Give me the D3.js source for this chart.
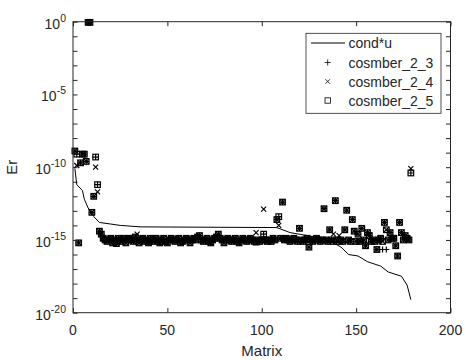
<!DOCTYPE html>
<html><head><meta charset="utf-8">
<script src="https://cdn.jsdelivr.net/npm/d3@7"></script>
<style>body{margin:0;background:#fff}svg{display:block}text{font-family:"Liberation Sans",Arial,sans-serif;fill:#262626}</style>
</head><body><svg id="c" width="466" height="360"></svg>
<script>
const seriesNames = ["cond*u","cosmber_2_3","cosmber_2_4","cosmber_2_5"];
const xTicks = [0,50,100,150,200];
const yMajor = [1e-20,1e-15,1e-10,1e-5,1e0];
const yExpLabels = ["-20","-15","-10","-5","0"];
const matrixIds = d3.range(1,180);

const condLineX = [1,2,5,6,8,11,14,25,36,108,115,131,138,142,146,151,156,163,167,174,177,179];
const condLineY = [7.9e-11,6.3e-12,2.5e-12,6.3e-13,1.6e-13,4.0e-14,1.6e-14,1.0e-14,7.9e-15,7.1e-15,3.2e-15,1.4e-15,6.3e-16,3.2e-16,1.0e-16,7.9e-17,3.2e-17,1.6e-17,6.3e-18,3.2e-18,7.9e-19,7.9e-20];

const cosmber23 = [
1.3e-9,7.9e-10,6.3e-16,2.0e-10,7.9e-10,7.9e-10,2.5e-10,9.0e-1,9.0e-1,7.9e-14,1.0e-12,5.0e-10,6.3e-12,4.0e-15,2.5e-15,
1.3e-15,1.0e-15,7.9e-16,1.0e-15,1.3e-15,6.3e-16,1.0e-15,5.6e-16,1.3e-15,7.9e-16,1.0e-15,1.3e-15,6.3e-16,1.0e-15,1.3e-15,
1.0e-15,7.9e-16,1.6e-15,1.0e-15,6.3e-16,1.0e-15,1.3e-15,7.9e-16,1.0e-15,6.3e-16,1.3e-15,7.9e-16,1.0e-15,1.3e-15,7.9e-16,
6.3e-16,1.0e-15,1.3e-15,7.9e-16,6.3e-16,1.0e-15,1.3e-15,1.0e-15,7.9e-16,1.0e-15,1.3e-15,6.3e-16,7.9e-16,1.0e-15,1.3e-15,
1.0e-15,6.3e-16,1.0e-15,1.3e-15,1.0e-15,1.6e-15,2.0e-15,1.0e-15,7.9e-16,1.0e-15,1.3e-15,7.9e-16,6.3e-16,1.0e-15,1.3e-15,
1.6e-15,2.5e-15,1.3e-15,1.0e-15,6.3e-16,1.0e-15,1.3e-15,1.0e-15,7.9e-16,1.0e-15,1.3e-15,7.9e-16,6.3e-16,1.0e-15,1.3e-15,
1.0e-15,7.9e-16,1.0e-15,1.3e-15,1.0e-15,7.9e-16,7.1e-16,1.0e-15,7.9e-16,1.0e-15,2.5e-15,1.0e-15,7.9e-16,1.0e-15,7.9e-16,
1.3e-15,1.0e-15,2.5e-14,4.0e-14,1.3e-15,4.0e-13,1.0e-15,1.3e-15,1.0e-15,7.9e-16,1.0e-15,1.3e-15,1.0e-15,7.9e-16,6.3e-15,
1.0e-15,7.9e-16,1.0e-15,1.3e-15,3.2e-16,1.0e-15,7.9e-16,1.0e-15,1.3e-15,1.0e-15,7.9e-16,1.0e-15,1.4e-13,1.0e-15,7.9e-16,
5.0e-15,1.0e-15,7.9e-16,5.0e-13,1.0e-15,7.9e-16,1.0e-15,7.9e-16,5.0e-15,1.1e-13,1.0e-15,7.9e-16,2.5e-14,4.0e-15,7.9e-16,
2.5e-15,7.9e-16,6.3e-15,1.0e-15,4.0e-16,3.2e-15,2.0e-15,7.9e-16,1.0e-15,7.9e-16,2.2e-16,1.0e-15,1.3e-15,2.2e-16,1.6e-14,
2.2e-16,1.0e-15,3.2e-15,1.3e-15,1.3e-15,4.0e-16,7.9e-17,1.6e-14,3.2e-15,1.0e-15,2.0e-15,1.3e-15,1.0e-15,4.0e-11];

const cosmber24 = [
1.3e-9,1.3e-10,6.3e-16,2.0e-10,7.9e-10,7.9e-10,2.5e-10,9.0e-1,9.0e-1,7.9e-14,1.0e-12,1.0e-10,2.0e-12,4.0e-15,2.5e-15,
1.3e-15,1.0e-15,7.9e-16,1.0e-15,1.3e-15,6.3e-16,1.0e-15,5.6e-16,1.3e-15,7.9e-16,1.0e-15,1.3e-15,6.3e-16,1.0e-15,1.3e-15,
1.0e-15,7.9e-16,1.6e-15,2.5e-15,6.3e-16,1.0e-15,1.3e-15,7.9e-16,1.0e-15,6.3e-16,1.3e-15,7.9e-16,1.0e-15,1.3e-15,7.9e-16,
6.3e-16,1.0e-15,1.3e-15,7.9e-16,6.3e-16,1.0e-15,1.3e-15,1.0e-15,7.9e-16,1.0e-15,1.3e-15,6.3e-16,7.9e-16,1.0e-15,1.3e-15,
1.0e-15,6.3e-16,1.0e-15,1.3e-15,1.0e-15,1.6e-15,2.0e-15,1.0e-15,7.9e-16,1.0e-15,1.3e-15,7.9e-16,6.3e-16,1.0e-15,1.3e-15,
1.6e-15,2.5e-15,1.3e-15,1.0e-15,6.3e-16,1.0e-15,1.3e-15,1.0e-15,7.9e-16,1.0e-15,1.3e-15,7.9e-16,6.3e-16,1.0e-15,1.3e-15,
1.0e-15,7.9e-16,1.0e-15,1.3e-15,1.0e-15,7.9e-16,3.2e-15,1.0e-15,7.9e-16,1.0e-15,1.3e-13,1.0e-15,7.9e-16,1.0e-15,7.9e-16,
1.3e-15,1.0e-15,2.5e-14,1.0e-14,1.3e-15,4.0e-13,1.0e-15,1.3e-15,1.0e-15,7.9e-16,1.0e-15,1.3e-15,1.0e-15,7.9e-16,6.3e-15,
1.0e-15,7.9e-16,1.0e-15,1.3e-15,3.2e-16,1.0e-15,7.9e-16,1.0e-15,1.3e-15,1.0e-15,7.9e-16,1.0e-15,1.4e-13,1.0e-15,7.9e-16,
5.0e-15,1.0e-15,2.5e-15,5.0e-13,1.0e-15,2.0e-15,1.0e-15,7.9e-16,5.0e-15,1.1e-13,1.0e-15,7.9e-16,2.5e-14,4.0e-15,7.9e-16,
2.5e-15,7.9e-16,6.3e-15,1.0e-15,4.0e-16,3.2e-15,2.0e-15,7.9e-16,1.0e-15,7.9e-16,2.2e-16,1.0e-15,1.3e-15,7.9e-16,1.6e-14,
5.0e-15,1.0e-15,3.2e-15,1.3e-15,1.3e-15,4.0e-16,7.9e-17,1.6e-14,3.2e-15,1.0e-15,2.0e-15,1.3e-15,1.0e-15,7.9e-11];

const cosmber25 = [
1.3e-9,7.9e-10,6.3e-16,2.0e-10,7.9e-10,7.9e-10,2.5e-10,9.0e-1,9.0e-1,7.9e-14,1.0e-12,5.0e-10,6.3e-12,4.0e-15,2.5e-15,
1.3e-15,1.0e-15,7.9e-16,1.0e-15,1.3e-15,6.3e-16,1.0e-15,5.6e-16,1.3e-15,7.9e-16,1.0e-15,1.3e-15,6.3e-16,1.0e-15,1.3e-15,
1.0e-15,7.9e-16,1.6e-15,1.0e-15,6.3e-16,1.0e-15,1.3e-15,7.9e-16,1.0e-15,6.3e-16,1.3e-15,7.9e-16,1.0e-15,1.3e-15,7.9e-16,
6.3e-16,1.0e-15,1.3e-15,7.9e-16,6.3e-16,1.0e-15,1.3e-15,1.0e-15,7.9e-16,1.0e-15,1.3e-15,6.3e-16,7.9e-16,1.0e-15,1.3e-15,
1.0e-15,6.3e-16,1.0e-15,1.3e-15,1.0e-15,1.6e-15,2.0e-15,1.0e-15,7.9e-16,1.0e-15,1.3e-15,7.9e-16,6.3e-16,1.0e-15,1.3e-15,
1.6e-15,2.5e-15,1.3e-15,1.0e-15,6.3e-16,1.0e-15,1.3e-15,1.0e-15,7.9e-16,1.0e-15,1.3e-15,7.9e-16,6.3e-16,1.0e-15,1.3e-15,
1.0e-15,7.9e-16,1.0e-15,1.3e-15,1.0e-15,7.9e-16,7.1e-16,1.0e-15,7.9e-16,1.0e-15,2.5e-15,1.0e-15,7.9e-16,1.0e-15,7.9e-16,
1.3e-15,1.0e-15,2.5e-14,4.0e-14,1.3e-15,4.0e-13,1.0e-15,1.3e-15,1.0e-15,7.9e-16,1.0e-15,1.3e-15,1.0e-15,7.9e-16,6.3e-15,
1.0e-15,7.9e-16,1.0e-15,1.3e-15,3.2e-16,1.0e-15,7.9e-16,1.0e-15,1.3e-15,1.0e-15,7.9e-16,1.0e-15,1.4e-13,1.0e-15,7.9e-16,
5.0e-15,1.0e-15,7.9e-16,5.0e-13,1.0e-15,7.9e-16,1.0e-15,7.9e-16,5.0e-15,1.1e-13,1.0e-15,7.9e-16,2.5e-14,4.0e-15,7.9e-16,
2.5e-15,7.9e-16,6.3e-15,1.0e-15,4.0e-16,3.2e-15,2.0e-15,7.9e-16,1.0e-15,7.9e-16,2.2e-16,1.0e-15,1.3e-15,7.9e-16,1.6e-14,
5.0e-15,1.0e-15,3.2e-15,1.3e-15,1.3e-15,4.0e-16,7.9e-17,1.6e-14,3.2e-15,1.0e-15,2.0e-15,1.3e-15,1.0e-15,4.0e-11];

const svg = d3.select("#c");
const L=73, R=450.5, T=21.7, B=312.7;
const x = d3.scaleLinear().domain([0,200]).range([L,R]);
const y = d3.scaleLog().domain([1e-20,1]).range([B,T]);
const axisColor = "#262626";
const decades = d3.range(-20,1).map(e=>Math.pow(10,e));

// plot content
const line = d3.line().x((d,i)=>x(condLineX[i])).y(d=>y(d));
svg.append("path").attr("d", line(condLineY)).attr("fill","none").attr("stroke","#000").attr("stroke-width",1);

const g = svg.append("g");
const plusPath = s=>`M${-s},0H${s}M0,${-s}V${s}`;
const crossPath = s=>`M${-s},${-s}L${s},${s}M${-s},${s}L${s},${-s}`;
const mw = 1.2;
g.selectAll(".p3").data(cosmber23).join("path")
  .attr("transform",(d,i)=>`translate(${x(matrixIds[i])},${y(d)})`)
  .attr("d",plusPath(3)).attr("stroke","#000").attr("stroke-width",mw).attr("fill","none");
g.selectAll(".p4").data(cosmber24).join("path")
  .attr("transform",(d,i)=>`translate(${x(matrixIds[i])},${y(d)})`)
  .attr("d",crossPath(2.5)).attr("stroke","#000").attr("stroke-width",mw).attr("fill","none");
g.selectAll(".p5").data(cosmber25).join("rect")
  .attr("x",(d,i)=>x(matrixIds[i])-2.8).attr("y",d=>y(d)-2.8)
  .attr("width",5.6).attr("height",5.6).attr("stroke","#000").attr("stroke-width",mw).attr("fill","none");

// axes box
svg.append("rect").attr("x",L).attr("y",T).attr("width",R-L).attr("height",B-T)
  .attr("fill","none").attr("stroke",axisColor).attr("stroke-width",1);
const tk=4.5;
svg.append("g").attr("transform",`translate(0,${B})`).call(d3.axisBottom(x).tickValues(xTicks).tickSize(-tk).tickFormat(""))
  .call(a=>{a.select(".domain").remove();a.selectAll("line").attr("stroke",axisColor);});
svg.append("g").attr("transform",`translate(0,${T})`).call(d3.axisTop(x).tickValues(xTicks).tickSize(-tk).tickFormat(""))
  .call(a=>{a.select(".domain").remove();a.selectAll("line").attr("stroke",axisColor);});
svg.append("g").attr("transform",`translate(${L},0)`).call(d3.axisLeft(y).tickValues(decades).tickSize(-tk).tickFormat(""))
  .call(a=>{a.select(".domain").remove();a.selectAll("line").attr("stroke",axisColor);});
svg.append("g").attr("transform",`translate(${R},0)`).call(d3.axisRight(y).tickValues(decades).tickSize(-tk).tickFormat(""))
  .call(a=>{a.select(".domain").remove();a.selectAll("line").attr("stroke",axisColor);});

// x tick labels
svg.selectAll(".xl").data(xTicks).join("text")
  .attr("x",d=>x(d)).attr("y",B+22).attr("text-anchor","middle").attr("font-size",14).text(d=>d);
// y tick labels
yMajor.forEach((v,i)=>{
  const t = svg.append("text").attr("x",L-7).attr("y",y(v)+7).attr("text-anchor","end").attr("font-size",14);
  t.append("tspan").text("10");
  t.append("tspan").attr("dy",-7).attr("font-size",10.5).text(yExpLabels[i]);
});
svg.append("text").attr("x",x(100)).attr("y",356).attr("text-anchor","middle").attr("font-size",15).text("Matrix");
svg.append("text").attr("transform",`translate(17,${y(1e-10)}) rotate(-90)`).attr("text-anchor","middle").attr("font-size",15).text("Er");

// legend
const lg = svg.append("g");
lg.append("rect").attr("x",306).attr("y",33.3).attr("width",135).attr("height",80).attr("fill","#fff").attr("stroke",axisColor).attr("stroke-width",0.8);
const rowY=[43,62.5,81.5,100.5];
lg.append("line").attr("x1",311).attr("x2",345).attr("y1",rowY[0]).attr("y2",rowY[0]).attr("stroke","#000");
lg.append("path").attr("transform",`translate(327.7,${rowY[1]})`).attr("d",plusPath(3)).attr("stroke","#000").attr("stroke-width",0.8);
lg.append("path").attr("transform",`translate(327.7,${rowY[2]})`).attr("d",crossPath(2.3)).attr("stroke","#000").attr("stroke-width",0.8);
lg.append("rect").attr("x",325).attr("y",rowY[3]-2.7).attr("width",5.4).attr("height",5.4).attr("fill","none").attr("stroke","#000").attr("stroke-width",0.8);
lg.selectAll(".lt").data(seriesNames).join("text").attr("x",348.5).attr("y",(d,i)=>rowY[i]+5)
  .attr("font-size",14).text(d=>d);
</script></body></html>
